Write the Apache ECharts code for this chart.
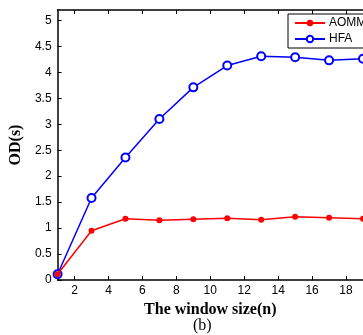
<!DOCTYPE html>
<html>
<head>
<meta charset="utf-8">
<script src="https://cdn.jsdelivr.net/npm/echarts@6/dist/echarts.min.js"></script>
<style>
  html, body { margin: 0; padding: 0; background: #fff; }
  #main { width: 363px; height: 335px; }
</style>
</head>
<body>
<div id="main"></div>
<script>
// window size n
const xVals = [1, 3, 5, 7, 9, 11, 13, 15, 17, 19];
const aommVals = [0.11, 0.95, 1.18, 1.15, 1.17, 1.19, 1.16, 1.22, 1.20, 1.18];
const hfaVals = [0.11, 1.58, 2.36, 3.10, 3.71, 4.13, 4.31, 4.29, 4.23, 4.26];
const xTicks = [2, 4, 6, 8, 10, 12, 14, 16, 18];
const yTicks = [0, 0.5, 1, 1.5, 2, 2.5, 3, 3.5, 4, 4.5, 5];
const seriesNames = ['AOMM', 'HFA'];

const toPairs = (ys) => xVals.map((x, i) => [x, ys[i]]);
const tickFont = { fontFamily: 'Liberation Sans', fontSize: 12, color: '#000' };
const titleFont = { fontFamily: 'Liberation Serif', fontSize: 16, fontWeight: 'bold', color: '#000' };

let chart = echarts.init(document.getElementById('main'), null, { renderer: 'canvas' });
let option = {
  animation: false,
  grid: { left: 47, right: -7, top: 10, bottom: 55, containLabel: false },
  legend: {
    orient: 'vertical',
    left: 288,
    top: 14,
    data: seriesNames,
    itemWidth: 30,
    itemHeight: 8,
    itemGap: 4,
    padding: [3, 40, 3, 6],
    borderColor: '#000',
    borderWidth: 1,
    backgroundColor: '#fff',
    textStyle: { fontFamily: 'Liberation Sans', fontSize: 12, color: '#000', padding: [0, 0, 0, -1] }
  },
  xAxis: [
    {
      type: 'value',
      min: 1,
      max: 19,
      name: 'The window size(n)',
      nameLocation: 'middle',
      nameGap: 17,
      nameTextStyle: titleFont,
      axisLine: { lineStyle: { color: '#000', width: 1.5 } },
      axisTick: { inside: true, length: 4, customValues: xTicks, lineStyle: { color: '#000' } },
      axisLabel: Object.assign({ margin: 5, customValues: xTicks }, tickFont),
      splitLine: { show: false }
    },
    {
      type: 'value',
      position: 'top',
      min: 1,
      max: 19,
      axisLine: { lineStyle: { color: '#000', width: 1.5 } },
      axisTick: { inside: true, length: 4, customValues: xTicks, lineStyle: { color: '#000' } },
      axisLabel: { show: false },
      splitLine: { show: false }
    }
  ],
  yAxis: {
    type: 'value',
    min: 0,
    max: 5.2,
    name: 'OD(s)',
    nameLocation: 'middle',
    nameGap: 24,
    nameTextStyle: titleFont,
    axisLine: { lineStyle: { color: '#000', width: 1.5 } },
    axisTick: { inside: true, length: 4, customValues: yTicks, lineStyle: { color: '#000' } },
    axisLabel: Object.assign({ margin: 6, customValues: yTicks }, tickFont),
    splitLine: { show: false }
  },
  series: [
    {
      name: seriesNames[0],
      type: 'line',
      data: toPairs(aommVals),
      symbol: 'circle',
      symbolSize: 6,
      color: '#ff0000',
      lineStyle: { color: '#ff0000', width: 1.5 },
      itemStyle: { color: '#ff0000' },
      z: 3
    },
    {
      name: seriesNames[1],
      type: 'line',
      data: toPairs(hfaVals),
      symbol: 'emptyCircle',
      symbolSize: 8,
      color: '#0000ff',
      lineStyle: { color: '#0000ff', width: 1.5 },
      itemStyle: { color: '#0000ff', borderColor: '#0000ff', borderWidth: 1.5 },
      z: 2
    }
  ],
  graphic: [
    {
      type: 'text',
      left: 193,
      top: 318,
      style: { text: '(b)', font: '16px "Liberation Serif"', fill: '#000' }
    }
  ]
};
chart.setOption(option);
window.addEventListener('resize', chart.resize);
</script>
</body>
</html>
